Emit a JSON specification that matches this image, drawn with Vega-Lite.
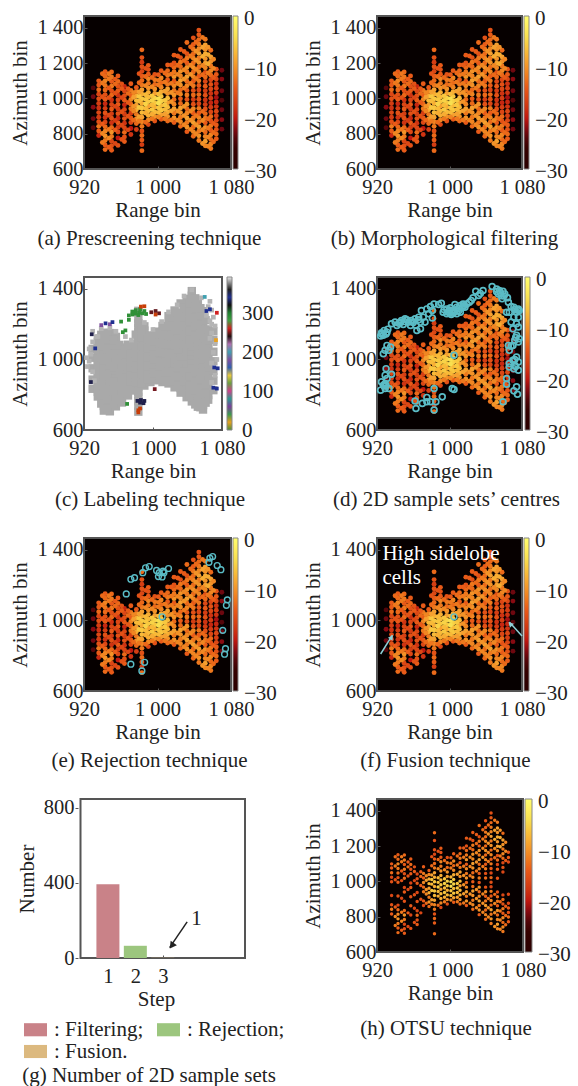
{"$schema":"https://vega.github.io/schema/vega-lite/v6.json","padding":{"left":8,"top":15,"right":0,"bottom":0},"background":"white","columns":2,"bounds":"flush","spacing":{"row":108,"column":127},"resolve":{"scale":{"color":"independent"},"legend":{"color":"independent"}},
"config":{"view":{"stroke":"#555","strokeWidth":2},"axis":{"labelFont":"Liberation Serif","labelFontSize":20.5,"titleFont":"Liberation Serif","titleFontSize":21,"titleFontWeight":"normal","labelColor":"#222","titleColor":"#222","grid":false,"domain":false,"tickSize":-3,"tickColor":"#555","labelOverlap":false,"labelFlush":false},"axisX":{"labelPadding":11,"titlePadding":2},"axisY":{"labelPadding":4,"titlePadding":6},"legend":{"padding":0,"labelFont":"Liberation Serif","labelFontSize":21,"labelColor":"#222","labelOverlap":false,"gradientStrokeColor":"#888","gradientStrokeWidth":1}},
"datasets":{
"cells":[
{"r":930,"a":834,"v":-24},{"r":930,"a":886,"v":-23},{"r":930,"a":950,"v":-22},{"r":930,"a":1010,"v":-23},{"r":930,"a":1060,"v":-24},
{"r":936,"a":790,"v":-19},{"r":936,"a":816,"v":-14},{"r":936,"a":842,"v":-12},{"r":936,"a":868,"v":-15},{"r":936,"a":894,"v":-17},{"r":936,"a":920,"v":-16},{"r":936,"a":946,"v":-18},{"r":936,"a":972,"v":-17},{"r":936,"a":998,"v":-15},{"r":936,"a":1024,"v":-16},{"r":936,"a":1050,"v":-13},{"r":936,"a":1076,"v":-14},{"r":936,"a":1100,"v":-14},
{"r":943,"a":710,"v":-13},{"r":943,"a":736,"v":-14},{"r":943,"a":762,"v":-12},{"r":943,"a":788,"v":-10},{"r":943,"a":814,"v":-11},{"r":943,"a":840,"v":-13},{"r":943,"a":866,"v":-16},{"r":943,"a":892,"v":-18},{"r":943,"a":918,"v":-15},{"r":943,"a":944,"v":-17},{"r":943,"a":970,"v":-19},{"r":943,"a":996,"v":-14},{"r":943,"a":1022,"v":-15},{"r":943,"a":1048,"v":-13},{"r":943,"a":1074,"v":-12},{"r":943,"a":1100,"v":-11},{"r":943,"a":1126,"v":-13},{"r":943,"a":1152,"v":-14},
{"r":950,"a":706,"v":-14},{"r":950,"a":732,"v":-15},{"r":950,"a":758,"v":-16},{"r":950,"a":784,"v":-12},{"r":950,"a":810,"v":-10},{"r":950,"a":836,"v":-13},{"r":950,"a":862,"v":-18},{"r":950,"a":888,"v":-15},{"r":950,"a":914,"v":-17},{"r":950,"a":940,"v":-14},{"r":950,"a":966,"v":-16},{"r":950,"a":992,"v":-18},{"r":950,"a":1018,"v":-13},{"r":950,"a":1044,"v":-15},{"r":950,"a":1070,"v":-12},{"r":950,"a":1096,"v":-14},{"r":950,"a":1122,"v":-12},{"r":950,"a":1150,"v":-13},
{"r":957,"a":734,"v":-15},{"r":957,"a":776,"v":-20},{"r":957,"a":810,"v":-16},{"r":957,"a":836,"v":-17},{"r":957,"a":862,"v":-14},{"r":957,"a":888,"v":-19},{"r":957,"a":914,"v":-15},{"r":957,"a":940,"v":-17},{"r":957,"a":966,"v":-14},{"r":957,"a":992,"v":-16},{"r":957,"a":1018,"v":-18},{"r":957,"a":1044,"v":-14},{"r":957,"a":1070,"v":-15},{"r":957,"a":1096,"v":-13},{"r":957,"a":1128,"v":-14},
{"r":964,"a":756,"v":-14},{"r":964,"a":782,"v":-15},{"r":964,"a":808,"v":-13},{"r":964,"a":834,"v":-16},{"r":964,"a":860,"v":-18},{"r":964,"a":886,"v":-15},{"r":964,"a":912,"v":-17},{"r":964,"a":938,"v":-16},{"r":964,"a":964,"v":-19},{"r":964,"a":990,"v":-14},{"r":964,"a":1016,"v":-15},{"r":964,"a":1042,"v":-16},{"r":964,"a":1068,"v":-19},
{"r":971,"a":796,"v":-18},{"r":971,"a":830,"v":-20},{"r":971,"a":864,"v":-16},{"r":971,"a":890,"v":-14},{"r":971,"a":916,"v":-17},{"r":971,"a":942,"v":-12},{"r":971,"a":968,"v":-13},{"r":971,"a":994,"v":-11},{"r":971,"a":1020,"v":-14},{"r":971,"a":1046,"v":-12},{"r":971,"a":1084,"v":-14},
{"r":977,"a":824,"v":-17},{"r":977,"a":858,"v":-13},{"r":977,"a":884,"v":-10},{"r":977,"a":910,"v":-12},{"r":977,"a":936,"v":-8},{"r":977,"a":962,"v":-9},{"r":977,"a":988,"v":-7},{"r":977,"a":1014,"v":-8},{"r":977,"a":1040,"v":-11},{"r":977,"a":1062,"v":-14},
{"r":983,"a":704,"v":-13},{"r":983,"a":738,"v":-17},{"r":983,"a":764,"v":-14},{"r":983,"a":790,"v":-13},{"r":983,"a":816,"v":-15},{"r":983,"a":842,"v":-12},{"r":983,"a":868,"v":-11},{"r":983,"a":894,"v":-9},{"r":983,"a":920,"v":-7},{"r":983,"a":946,"v":-6},{"r":983,"a":972,"v":-8},{"r":983,"a":998,"v":-6},{"r":983,"a":1024,"v":-8},{"r":983,"a":1050,"v":-9},{"r":983,"a":1076,"v":-12},{"r":983,"a":1102,"v":-13},{"r":983,"a":1128,"v":-14},{"r":983,"a":1154,"v":-16},{"r":983,"a":1180,"v":-15},{"r":983,"a":1206,"v":-17},{"r":983,"a":1232,"v":-15},{"r":983,"a":1276,"v":-13},
{"r":990,"a":852,"v":-16},{"r":990,"a":878,"v":-11},{"r":990,"a":904,"v":-8},{"r":990,"a":930,"v":-7},{"r":990,"a":956,"v":-9},{"r":990,"a":982,"v":-6},{"r":990,"a":1008,"v":-7},{"r":990,"a":1034,"v":-8},{"r":990,"a":1060,"v":-10},{"r":990,"a":1086,"v":-12},{"r":990,"a":1112,"v":-11},{"r":990,"a":1138,"v":-14},{"r":990,"a":1164,"v":-15},{"r":990,"a":1188,"v":-14},
{"r":997,"a":872,"v":-15},{"r":997,"a":898,"v":-10},{"r":997,"a":924,"v":-7},{"r":997,"a":950,"v":-8},{"r":997,"a":976,"v":-6},{"r":997,"a":1002,"v":-5},{"r":997,"a":1028,"v":-9},{"r":997,"a":1054,"v":-10},{"r":997,"a":1080,"v":-13},{"r":997,"a":1106,"v":-12},{"r":997,"a":1136,"v":-15},
{"r":1004,"a":882,"v":-14},{"r":1004,"a":908,"v":-9},{"r":1004,"a":934,"v":-6},{"r":1004,"a":960,"v":-7},{"r":1004,"a":986,"v":-5},{"r":1004,"a":1012,"v":-6},{"r":1004,"a":1038,"v":-8},{"r":1004,"a":1064,"v":-11},{"r":1004,"a":1090,"v":-13},{"r":1004,"a":1116,"v":-11},{"r":1004,"a":1158,"v":-14},
{"r":1011,"a":872,"v":-13},{"r":1011,"a":898,"v":-10},{"r":1011,"a":924,"v":-8},{"r":1011,"a":950,"v":-7},{"r":1011,"a":976,"v":-9},{"r":1011,"a":1002,"v":-7},{"r":1011,"a":1028,"v":-10},{"r":1011,"a":1054,"v":-9},{"r":1011,"a":1080,"v":-12},{"r":1011,"a":1106,"v":-14},{"r":1011,"a":1132,"v":-12},{"r":1011,"a":1158,"v":-13},{"r":1011,"a":1190,"v":-14},
{"r":1018,"a":864,"v":-14},{"r":1018,"a":890,"v":-10},{"r":1018,"a":916,"v":-12},{"r":1018,"a":942,"v":-9},{"r":1018,"a":968,"v":-11},{"r":1018,"a":994,"v":-13},{"r":1018,"a":1020,"v":-10},{"r":1018,"a":1046,"v":-12},{"r":1018,"a":1072,"v":-11},{"r":1018,"a":1098,"v":-14},{"r":1018,"a":1124,"v":-10},{"r":1018,"a":1150,"v":-12},{"r":1018,"a":1176,"v":-13},{"r":1018,"a":1202,"v":-15},{"r":1018,"a":1246,"v":-14},
{"r":1025,"a":842,"v":-13},{"r":1025,"a":868,"v":-11},{"r":1025,"a":894,"v":-12},{"r":1025,"a":920,"v":-10},{"r":1025,"a":946,"v":-9},{"r":1025,"a":972,"v":-13},{"r":1025,"a":998,"v":-14},{"r":1025,"a":1024,"v":-11},{"r":1025,"a":1050,"v":-13},{"r":1025,"a":1076,"v":-10},{"r":1025,"a":1102,"v":-9},{"r":1025,"a":1128,"v":-11},{"r":1025,"a":1154,"v":-10},{"r":1025,"a":1180,"v":-13},{"r":1025,"a":1206,"v":-12},{"r":1025,"a":1232,"v":-15},{"r":1025,"a":1278,"v":-14},
{"r":1032,"a":812,"v":-14},{"r":1032,"a":838,"v":-10},{"r":1032,"a":864,"v":-12},{"r":1032,"a":890,"v":-9},{"r":1032,"a":916,"v":-11},{"r":1032,"a":942,"v":-13},{"r":1032,"a":968,"v":-10},{"r":1032,"a":994,"v":-15},{"r":1032,"a":1020,"v":-12},{"r":1032,"a":1046,"v":-14},{"r":1032,"a":1072,"v":-11},{"r":1032,"a":1098,"v":-13},{"r":1032,"a":1124,"v":-9},{"r":1032,"a":1150,"v":-12},{"r":1032,"a":1176,"v":-10},{"r":1032,"a":1202,"v":-14},{"r":1032,"a":1228,"v":-12},{"r":1032,"a":1254,"v":-15},{"r":1032,"a":1318,"v":-13},
{"r":1039,"a":786,"v":-13},{"r":1039,"a":812,"v":-11},{"r":1039,"a":838,"v":-13},{"r":1039,"a":864,"v":-9},{"r":1039,"a":890,"v":-12},{"r":1039,"a":916,"v":-14},{"r":1039,"a":942,"v":-11},{"r":1039,"a":968,"v":-15},{"r":1039,"a":994,"v":-17},{"r":1039,"a":1020,"v":-13},{"r":1039,"a":1046,"v":-15},{"r":1039,"a":1072,"v":-12},{"r":1039,"a":1098,"v":-14},{"r":1039,"a":1124,"v":-11},{"r":1039,"a":1150,"v":-13},{"r":1039,"a":1176,"v":-10},{"r":1039,"a":1202,"v":-13},{"r":1039,"a":1228,"v":-11},{"r":1039,"a":1254,"v":-13},{"r":1039,"a":1280,"v":-12},{"r":1039,"a":1306,"v":-14},{"r":1039,"a":1344,"v":-15},
{"r":1045,"a":762,"v":-12},{"r":1045,"a":788,"v":-10},{"r":1045,"a":814,"v":-12},{"r":1045,"a":840,"v":-9},{"r":1045,"a":866,"v":-13},{"r":1045,"a":892,"v":-11},{"r":1045,"a":918,"v":-14},{"r":1045,"a":944,"v":-12},{"r":1045,"a":970,"v":-16},{"r":1045,"a":996,"v":-15},{"r":1045,"a":1022,"v":-13},{"r":1045,"a":1048,"v":-16},{"r":1045,"a":1074,"v":-14},{"r":1045,"a":1100,"v":-12},{"r":1045,"a":1126,"v":-14},{"r":1045,"a":1152,"v":-11},{"r":1045,"a":1178,"v":-13},{"r":1045,"a":1204,"v":-10},{"r":1045,"a":1230,"v":-12},{"r":1045,"a":1256,"v":-9},{"r":1045,"a":1282,"v":-11},{"r":1045,"a":1308,"v":-12},{"r":1045,"a":1334,"v":-13},{"r":1045,"a":1362,"v":-14},{"r":1045,"a":1388,"v":-15},
{"r":1052,"a":732,"v":-11},{"r":1052,"a":758,"v":-9},{"r":1052,"a":784,"v":-11},{"r":1052,"a":810,"v":-13},{"r":1052,"a":836,"v":-10},{"r":1052,"a":862,"v":-14},{"r":1052,"a":888,"v":-12},{"r":1052,"a":914,"v":-13},{"r":1052,"a":940,"v":-15},{"r":1052,"a":966,"v":-17},{"r":1052,"a":992,"v":-18},{"r":1052,"a":1018,"v":-15},{"r":1052,"a":1044,"v":-17},{"r":1052,"a":1070,"v":-14},{"r":1052,"a":1096,"v":-16},{"r":1052,"a":1122,"v":-13},{"r":1052,"a":1148,"v":-15},{"r":1052,"a":1174,"v":-11},{"r":1052,"a":1200,"v":-9},{"r":1052,"a":1226,"v":-10},{"r":1052,"a":1252,"v":-8},{"r":1052,"a":1278,"v":-10},{"r":1052,"a":1304,"v":-9},{"r":1052,"a":1336,"v":-12},
{"r":1058,"a":716,"v":-12},{"r":1058,"a":742,"v":-11},{"r":1058,"a":768,"v":-13},{"r":1058,"a":794,"v":-11},{"r":1058,"a":820,"v":-14},{"r":1058,"a":846,"v":-12},{"r":1058,"a":872,"v":-15},{"r":1058,"a":898,"v":-13},{"r":1058,"a":924,"v":-16},{"r":1058,"a":950,"v":-17},{"r":1058,"a":976,"v":-19},{"r":1058,"a":1002,"v":-17},{"r":1058,"a":1028,"v":-18},{"r":1058,"a":1054,"v":-16},{"r":1058,"a":1080,"v":-15},{"r":1058,"a":1106,"v":-16},{"r":1058,"a":1132,"v":-13},{"r":1058,"a":1158,"v":-11},{"r":1058,"a":1184,"v":-12},{"r":1058,"a":1210,"v":-10},{"r":1058,"a":1236,"v":-9},{"r":1058,"a":1274,"v":-13},
{"r":1064,"a":772,"v":-14},{"r":1064,"a":798,"v":-13},{"r":1064,"a":824,"v":-15},{"r":1064,"a":850,"v":-14},{"r":1064,"a":876,"v":-16},{"r":1064,"a":902,"v":-17},{"r":1064,"a":928,"v":-16},{"r":1064,"a":954,"v":-18},{"r":1064,"a":980,"v":-19},{"r":1064,"a":1006,"v":-21},{"r":1064,"a":1032,"v":-18},{"r":1064,"a":1058,"v":-17},{"r":1064,"a":1084,"v":-18},{"r":1064,"a":1110,"v":-16},{"r":1064,"a":1136,"v":-14},{"r":1064,"a":1166,"v":-15},
{"r":1070,"a":826,"v":-23},{"r":1070,"a":880,"v":-22},{"r":1070,"a":936,"v":-23},{"r":1070,"a":990,"v":-24},{"r":1070,"a":1044,"v":-23},{"r":1070,"a":1110,"v":-22},{"r":1070,"a":1160,"v":-23},
{"r":940,"a":750,"v":-12},{"r":940,"a":801,"v":-11},{"r":940,"a":855,"v":-14},{"r":940,"a":1010,"v":-15},{"r":940,"a":1088,"v":-12},{"r":940,"a":1140,"v":-13},
{"r":947,"a":723,"v":-14},{"r":947,"a":775,"v":-11},{"r":947,"a":825,"v":-12},{"r":947,"a":905,"v":-16},{"r":947,"a":1005,"v":-15},{"r":947,"a":1060,"v":-14},{"r":947,"a":1112,"v":-12},{"r":947,"a":1140,"v":-12},
{"r":954,"a":745,"v":-16},{"r":954,"a":822,"v":-14},{"r":954,"a":875,"v":-17},{"r":954,"a":955,"v":-16},{"r":954,"a":1031,"v":-15},{"r":954,"a":1083,"v":-13},{"r":954,"a":1110,"v":-14},
{"r":961,"a":768,"v":-15},{"r":961,"a":848,"v":-16},{"r":961,"a":925,"v":-15},{"r":961,"a":1005,"v":-16},{"r":961,"a":1057,"v":-14},{"r":961,"a":1083,"v":-15},
{"r":968,"a":822,"v":-16},{"r":968,"a":899,"v":-15},{"r":968,"a":977,"v":-14},{"r":968,"a":1029,"v":-13},{"r":968,"a":1055,"v":-14},
{"r":974,"a":877,"v":-13},{"r":974,"a":929,"v":-11},{"r":974,"a":955,"v":-10},{"r":974,"a":1007,"v":-9},{"r":974,"a":1033,"v":-11},
{"r":980,"a":871,"v":-12},{"r":980,"a":897,"v":-9},{"r":980,"a":949,"v":-6},{"r":980,"a":985,"v":-7},{"r":980,"a":1011,"v":-6},{"r":980,"a":1037,"v":-9},{"r":980,"a":1089,"v":-13},{"r":980,"a":1141,"v":-15},
{"r":987,"a":865,"v":-13},{"r":987,"a":917,"v":-8},{"r":987,"a":943,"v":-7},{"r":987,"a":969,"v":-5},{"r":987,"a":995,"v":-6},{"r":987,"a":1021,"v":-7},{"r":987,"a":1073,"v":-11},{"r":987,"a":1125,"v":-13},{"r":987,"a":1171,"v":-15},
{"r":994,"a":885,"v":-12},{"r":994,"a":911,"v":-8},{"r":994,"a":937,"v":-6},{"r":994,"a":963,"v":-7},{"r":994,"a":989,"v":-5},{"r":994,"a":1015,"v":-6},{"r":994,"a":1067,"v":-11},{"r":994,"a":1119,"v":-13},
{"r":1001,"a":895,"v":-11},{"r":1001,"a":921,"v":-7},{"r":1001,"a":947,"v":-6},{"r":1001,"a":973,"v":-4},{"r":1001,"a":999,"v":-4},{"r":1001,"a":1025,"v":-7},{"r":1001,"a":1077,"v":-12},{"r":1001,"a":1103,"v":-12},{"r":1001,"a":1135,"v":-14},
{"r":1008,"a":885,"v":-12},{"r":1008,"a":911,"v":-9},{"r":1008,"a":937,"v":-7},{"r":1008,"a":963,"v":-6},{"r":1008,"a":989,"v":-6},{"r":1008,"a":1041,"v":-9},{"r":1008,"a":1093,"v":-12},{"r":1008,"a":1145,"v":-13},
{"r":1015,"a":878,"v":-12},{"r":1015,"a":930,"v":-9},{"r":1015,"a":982,"v":-10},{"r":1015,"a":1034,"v":-10},{"r":1015,"a":1086,"v":-12},{"r":1015,"a":1138,"v":-12},{"r":1015,"a":1190,"v":-14},
{"r":1022,"a":877,"v":-11},{"r":1022,"a":929,"v":-10},{"r":1022,"a":1033,"v":-12},{"r":1022,"a":1085,"v":-11},{"r":1022,"a":1137,"v":-11},{"r":1022,"a":1189,"v":-13},{"r":1022,"a":1241,"v":-14},
{"r":1029,"a":851,"v":-11},{"r":1029,"a":903,"v":-10},{"r":1029,"a":955,"v":-10},{"r":1029,"a":1059,"v":-12},{"r":1029,"a":1111,"v":-10},{"r":1029,"a":1163,"v":-11},{"r":1029,"a":1215,"v":-13},{"r":1029,"a":1267,"v":-14},
{"r":1036,"a":825,"v":-11},{"r":1036,"a":877,"v":-10},{"r":1036,"a":929,"v":-11},{"r":1036,"a":1085,"v":-12},{"r":1036,"a":1137,"v":-10},{"r":1036,"a":1189,"v":-11},{"r":1036,"a":1241,"v":-12},{"r":1036,"a":1293,"v":-13},
{"r":1042,"a":799,"v":-11},{"r":1042,"a":851,"v":-10},{"r":1042,"a":903,"v":-12},{"r":1042,"a":1113,"v":-12},{"r":1042,"a":1165,"v":-11},{"r":1042,"a":1217,"v":-10},{"r":1042,"a":1269,"v":-10},{"r":1042,"a":1321,"v":-13},
{"r":1049,"a":745,"v":-10},{"r":1049,"a":823,"v":-11},{"r":1049,"a":875,"v":-11},{"r":1049,"a":927,"v":-13},{"r":1049,"a":1135,"v":-13},{"r":1049,"a":1187,"v":-11},{"r":1049,"a":1239,"v":-8},{"r":1049,"a":1291,"v":-9},{"r":1049,"a":1347,"v":-12},
{"r":1055,"a":729,"v":-11},{"r":1055,"a":781,"v":-11},{"r":1055,"a":833,"v":-12},{"r":1055,"a":885,"v":-13},{"r":1055,"a":1145,"v":-12},{"r":1055,"a":1197,"v":-8},{"r":1055,"a":1249,"v":-8},{"r":1055,"a":1291,"v":-10},
{"r":1061,"a":755,"v":-13},{"r":1061,"a":807,"v":-13},{"r":1061,"a":859,"v":-14},{"r":1061,"a":1119,"v":-14},{"r":1061,"a":1171,"v":-11},{"r":1061,"a":1223,"v":-11}
],
"centres":[
{"r":924,"a":1133},{"r":925,"a":1152},{"r":928,"a":1165},{"r":932,"a":1172},{"r":927,"a":1137},{"r":931,"a":1155},{"r":936,"a":1203},{"r":940,"a":1212},{"r":944,"a":1206},{"r":947,"a":1221},{"r":951,"a":1231},{"r":942,"a":1193},{"r":949,"a":1199},{"r":955,"a":1212},{"r":958,"a":1221},{"r":962,"a":1231},{"r":966,"a":1240},{"r":957,"a":1193},{"r":963,"a":1193},{"r":968,"a":1212},{"r":964,"a":1165},{"r":971,"a":1240},{"r":969,"a":1278},{"r":975,"a":1287},{"r":979,"a":1300},{"r":983,"a":1315},{"r":988,"a":1312},{"r":991,"a":1319},{"r":981,"a":1278},{"r":981,"a":1236},{"r":973,"a":1212},{"r":968,"a":1174},{"r":977,"a":1259},
{"r":993,"a":1268},{"r":997,"a":1287},{"r":1001,"a":1293},{"r":1004,"a":1278},{"r":1008,"a":1297},{"r":1012,"a":1306},{"r":1015,"a":1315},{"r":1019,"a":1315},{"r":1022,"a":1325},{"r":1026,"a":1350},{"r":1029,"a":1387},{"r":1037,"a":1391},{"r":1032,"a":1363},{"r":997,"a":1259},{"r":1002,"a":1255},{"r":1008,"a":1259},{"r":1012,"a":1268},{"r":1006,"a":1312},{"r":1014,"a":1293},{"r":1017,"a":1297},{"r":999,"a":1272},{"r":1005,"a":1268},{"r":994,"a":1282},
{"r":1047,"a":1414},{"r":1052,"a":1400},{"r":1055,"a":1391},{"r":1059,"a":1387},{"r":1054,"a":1372},{"r":1057,"a":1362},{"r":1061,"a":1372},{"r":1058,"a":1344},{"r":1065,"a":1325},{"r":1068,"a":1300},{"r":1063,"a":1268},{"r":1066,"a":1268},{"r":1071,"a":1297},{"r":1076,"a":1287},{"r":1074,"a":1268},{"r":1077,"a":1278},{"r":1071,"a":1240},{"r":1076,"a":1240},{"r":1068,"a":1212},{"r":1074,"a":1203},{"r":1070,"a":1174},{"r":1076,"a":1184},{"r":1074,"a":1137},{"r":1077,"a":1118},{"r":1072,"a":1109},{"r":1076,"a":1099},{"r":1065,"a":1080},{"r":1070,"a":1080},{"r":1066,"a":1052},{"r":1074,"a":1014},{"r":1070,"a":995},{"r":1066,"a":977},{"r":1072,"a":967},{"r":1076,"a":986},{"r":1066,"a":958},{"r":1076,"a":939},{"r":1071,"a":948},
{"r":1063,"a":892},{"r":1063,"a":860},{"r":1074,"a":845},{"r":1071,"a":822},{"r":1075,"a":803},{"r":1059,"a":760},
{"r":931,"a":1080},{"r":935,"a":1071},{"r":929,"a":1052},{"r":927,"a":1033},{"r":933,"a":1052},{"r":930,"a":948},{"r":936,"a":916},{"r":929,"a":911},{"r":931,"a":892},{"r":925,"a":873},{"r":929,"a":864},{"r":924,"a":826},{"r":927,"a":854},{"r":933,"a":835},{"r":929,"a":835},
{"r":963,"a":722},{"r":962,"a":764},{"r":970,"a":751},{"r":975,"a":785},{"r":975,"a":760},{"r":979,"a":760},{"r":985,"a":760},{"r":992,"a":788},{"r":983,"a":835},{"r":983,"a":713},{"r":1003,"a":835},{"r":1005,"a":830},{"r":1005,"a":1024},
{"r":1000,"a":1262},{"r":1004,"a":1262},{"r":1010,"a":1275},{"r":1010,"a":1290},{"r":1000,"a":1280},{"r":1016,"a":1305},{"r":1024,"a":1335},{"r":1034,"a":1375},{"r":1056,"a":1380},{"r":1052,"a":1385},{"r":1060,"a":1360},{"r":946,"a":1210},{"r":953,"a":1225},{"r":960,"a":1210},{"r":950,"a":1215},{"r":966,"a":1225},{"r":925,"a":1145},{"r":930,"a":1145},{"r":1073,"a":1125},{"r":1075,"a":1280},{"r":1072,"a":1285},{"r":1068,"a":1075},{"r":1072,"a":1000},{"r":1073,"a":960},{"r":928,"a":850},{"r":930,"a":852},{"r":1064,"a":1350}
],
"kept":[
{"r":966,"a":1151},{"r":971,"a":1234},{"r":975,"a":1243},{"r":984,"a":1271},{"r":987,"a":1299},{"r":991,"a":1306},{"r":999,"a":1284},{"r":1002,"a":1271},{"r":1006,"a":1280},{"r":1001,"a":1249},{"r":1005,"a":1247},{"r":1007,"a":1271},{"r":1012,"a":1295},{"r":1056,"a":1330},{"r":1057,"a":1354},{"r":1060,"a":1363},{"r":1065,"a":1312},{"r":1069,"a":1288},{"r":1076,"a":1117},{"r":1075,"a":1086},{"r":1071,"a":944},{"r":1074,"a":840},{"r":1073,"a":809},{"r":971,"a":752},{"r":986,"a":763},{"r":983,"a":714},{"r":1005,"a":1021}
],
"labels":[
{"r":972,"a":1250,"l":290},{"r":976,"a":1255,"l":290},{"r":980,"a":1260,"l":290},{"r":984,"a":1265,"l":290},{"r":988,"a":1262,"l":290},{"r":992,"a":1258,"l":290},{"r":980,"a":1280,"l":290},{"r":985,"a":1285,"l":290},{"r":976,"a":1272,"l":290},{"r":990,"a":1275,"l":290},{"r":983,"a":1252,"l":290},
{"r":986,"a":1300,"l":262},{"r":990,"a":1302,"l":262},{"r":998,"a":1268,"l":248},{"r":1003,"a":1275,"l":248},{"r":1007,"a":1262,"l":248},{"r":1003,"a":1255,"l":262},
{"r":983,"a":712,"l":262},{"r":983,"a":700,"l":262},{"r":985,"a":722,"l":262},
{"r":982,"a":765,"l":330},{"r":986,"a":770,"l":330},{"r":990,"a":765,"l":330},{"r":985,"a":755,"l":330},{"r":989,"a":752,"l":330},{"r":970,"a":748,"l":290},{"r":1002,"a":832,"l":250},
{"r":940,"a":1195,"l":180},{"r":945,"a":1205,"l":340},{"r":950,"a":1200,"l":180},{"r":953,"a":1212,"l":340},{"r":965,"a":1155,"l":290},{"r":968,"a":1165,"l":290},{"r":963,"a":1215,"l":290},{"r":972,"a":1225,"l":290},
{"r":929,"a":1143,"l":330},{"r":933,"a":1063,"l":340},{"r":928,"a":872,"l":330},{"r":1070,"a":840,"l":340},{"r":1074,"a":835,"l":340},{"r":1071,"a":955,"l":340},{"r":1075,"a":950,"l":340},{"r":1066,"a":1285,"l":340},{"r":1062,"a":1275,"l":340},{"r":1074,"a":1265,"l":260},{"r":1073,"a":1110,"l":20},{"r":1060,"a":1355,"l":200}
],
"speckle":[
{"r":923,"a":1010},{"r":926,"a":990},{"r":924,"a":960},{"r":928,"a":1030},{"r":930,"a":930},{"r":926,"a":1060},{"r":930,"a":1100},{"r":932,"a":880},{"r":934,"a":1130},{"r":1066,"a":1330},{"r":1068,"a":1280},{"r":1070,"a":1240},{"r":1072,"a":1190},{"r":1068,"a":1150},{"r":1072,"a":1090},{"r":1070,"a":1040},{"r":1074,"a":1000},{"r":1068,"a":980},{"r":1072,"a":910},{"r":1068,"a":870},{"r":1064,"a":1300},{"r":1066,"a":1220},{"r":1066,"a":1120},
{"r":930,"a":1160},{"r":936,"a":1130},{"r":940,"a":1175},{"r":950,"a":1180},{"r":957,"a":1160},{"r":968,"a":1130},{"r":975,"a":1110},{"r":990,"a":1210},{"r":1000,"a":1170},{"r":1010,"a":1215},{"r":1018,"a":1270},{"r":1028,"a":1310},{"r":1036,"a":1360},{"r":1045,"a":1395},{"r":1056,"a":1350},{"r":1062,"a":1250},{"r":1068,"a":1200}
]},
"concat":[
{"title":{"text":"(a) Prescreening technique","orient":"bottom","font":"Liberation Serif","fontSize":21,"fontWeight":"normal","color":"#222","dx":-8,"offset":7},"width":147,"height":153,"view":{"fill":"#060000"},
"data":{"name":"cells"},"mark":{"type":"point","filled":true,"opacity":1,"size":24},
"encoding":{"x":{"field":"r","type":"quantitative","scale":{"domain":[920,1080],"nice":false,"zero":false},"axis":{"title":"Range bin","values":[920,1000,1080],"labelExpr":"datum.value<1000?datum.label:'1 '+format(datum.value-1000,'03d')"}},"y":{"field":"a","type":"quantitative","scale":{"domain":[600,1468],"nice":false,"zero":false},"axis":{"title":"Azimuth bin","values":[600,800,1000,1200,1400],"labelExpr":"datum.value<1000?datum.label:'1 '+format(datum.value-1000,'03d')"}},"color":{"field":"v","type":"quantitative","scale":{"domain":[-30,-25,-20,-14,-9,-4,0],"range":["#000000","#3a0400","#c01810","#e85a18","#f5a030","#f8e050","#ffffff"]},"legend":{"type":"gradient","title":null,"orient":"right","offset":2,"gradientLength":153,"gradientThickness":5,"labelOffset":6,"values":[-30,-20,-10,0],"labelExpr":"replace(datum.label,'-','−')","labelBaseline":"middle","encoding":{"labels":{"baseline":{"value":"middle"},"dy":{"value":3}}}}}}},
{"title":{"text":"(b) Morphological filtering","orient":"bottom","font":"Liberation Serif","fontSize":21,"fontWeight":"normal","color":"#222","dx":-5,"offset":7},"width":145,"height":153,"view":{"fill":"#060000"},
"data":{"name":"cells"},"mark":{"type":"point","filled":true,"opacity":1,"size":24},
"encoding":{"x":{"field":"r","type":"quantitative","scale":{"domain":[920,1080],"nice":false,"zero":false},"axis":{"title":"Range bin","values":[920,1000,1080],"labelExpr":"datum.value<1000?datum.label:'1 '+format(datum.value-1000,'03d')"}},"y":{"field":"a","type":"quantitative","scale":{"domain":[600,1468],"nice":false,"zero":false},"axis":{"title":"Azimuth bin","values":[600,800,1000,1200,1400],"labelExpr":"datum.value<1000?datum.label:'1 '+format(datum.value-1000,'03d')"}},"color":{"field":"v","type":"quantitative","scale":{"domain":[-30,-25,-20,-14,-9,-4,0],"range":["#000000","#3a0400","#c01810","#e85a18","#f5a030","#f8e050","#ffffff"]},"legend":{"type":"gradient","title":null,"orient":"right","offset":2,"gradientLength":153,"gradientThickness":5,"labelOffset":6,"values":[-30,-20,-10,0],"labelExpr":"replace(datum.label,'-','−')","labelBaseline":"middle","encoding":{"labels":{"baseline":{"value":"middle"},"dy":{"value":3}}}}}}},
{"title":{"text":"(c) Labeling technique","orient":"bottom","font":"Liberation Serif","fontSize":21,"fontWeight":"normal","color":"#222","dx":-3,"offset":7},"width":138,"height":153,"view":{"fill":"#ffffff"},
"layer":[
{"data":{"name":"cells"},"mark":{"type":"point","filled":true,"opacity":1,"size":70,"shape":"square","color":"#a9a9a9"},"encoding":{"x":{"field":"r","type":"quantitative","scale":{"domain":[920,1080],"nice":false,"zero":false},"axis":{"title":"Range bin","values":[920,1000,1080],"labelExpr":"datum.value<1000?datum.label:'1 '+format(datum.value-1000,'03d')"}},"y":{"field":"a","type":"quantitative","scale":{"domain":[600,1468],"nice":false,"zero":false},"axis":{"title":"Azimuth bin","values":[600,800,1000,1200,1400],"labelExpr":"datum.value<1000?datum.label:'1 '+format(datum.value-1000,'03d')"}}}},
{"data":{"name":"speckle"},"mark":{"type":"point","filled":true,"opacity":1,"size":22,"shape":"square","color":"#b4b4b4"},"encoding":{"x":{"field":"r","type":"quantitative"},"y":{"field":"a","type":"quantitative"}}},
{"data":{"name":"labels"},"mark":{"type":"point","filled":true,"opacity":1,"size":14,"shape":"square"},"encoding":{"x":{"field":"r","type":"quantitative"},"y":{"field":"a","type":"quantitative"},"color":{"field":"l","type":"quantitative","scale":{"domain":[0,20,40,60,80,100,120,140,160,180,200,220,240,260,280,300,320,340,360,380,392],"range":["#4c8f3a","#e8a020","#3a9a50","#7a3f9a","#2a9a90","#d0408a","#6aa040","#e8c840","#3060b0","#8050a0","#40a0b0","#b070b0","#201010","#d02020","#40a040","#208030","#101010","#203090","#202020","#a0a0a0","#e8e8e8"]},"legend":{"type":"gradient","title":null,"orient":"right","offset":5,"gradientLength":153,"gradientThickness":5,"labelOffset":10,"values":[0,100,200,300],"labelBaseline":"middle","encoding":{"labels":{"baseline":{"value":"middle"},"dy":{"value":1}}}}}}}
]},
{"title":{"text":"(d) 2D sample sets’ centres","orient":"bottom","font":"Liberation Serif","fontSize":21,"fontWeight":"normal","color":"#222","dx":-3,"offset":7},"width":145,"height":153,"view":{"fill":"#060000"},
"layer":[
{"data":{"name":"cells"},"mark":{"type":"point","filled":true,"opacity":1,"size":24},"encoding":{"x":{"field":"r","type":"quantitative","scale":{"domain":[920,1080],"nice":false,"zero":false},"axis":{"title":"Range bin","values":[920,1000,1080],"labelExpr":"datum.value<1000?datum.label:'1 '+format(datum.value-1000,'03d')"}},"y":{"field":"a","type":"quantitative","scale":{"domain":[600,1468],"nice":false,"zero":false},"axis":{"title":"Azimuth bin","values":[600,800,1000,1200,1400],"labelExpr":"datum.value<1000?datum.label:'1 '+format(datum.value-1000,'03d')"}},"color":{"field":"v","type":"quantitative","scale":{"domain":[-30,-25,-20,-14,-9,-4,0],"range":["#000000","#3a0400","#c01810","#e85a18","#f5a030","#f8e050","#ffffff"]},"legend":{"type":"gradient","title":null,"orient":"right","offset":3,"gradientLength":153,"gradientThickness":5,"labelOffset":6,"values":[-30,-20,-10,0],"labelExpr":"replace(datum.label,'-','−')","labelBaseline":"middle","encoding":{"labels":{"baseline":{"value":"middle"},"dy":{"value":3}}}}}}},
{"data":{"name":"centres"},"mark":{"type":"point","filled":false,"size":34,"color":"#5bbcc6","strokeWidth":1.7,"opacity":1},"encoding":{"x":{"field":"r","type":"quantitative"},"y":{"field":"a","type":"quantitative"}}}
]},
{"title":{"text":"(e) Rejection technique","orient":"bottom","font":"Liberation Serif","fontSize":21,"fontWeight":"normal","color":"#222","dx":-8,"offset":7},"width":147,"height":153,"view":{"fill":"#060000"},
"layer":[
{"data":{"name":"cells"},"mark":{"type":"point","filled":true,"opacity":1,"size":24},"encoding":{"x":{"field":"r","type":"quantitative","scale":{"domain":[920,1080],"nice":false,"zero":false},"axis":{"title":"Range bin","values":[920,1000,1080],"labelExpr":"datum.value<1000?datum.label:'1 '+format(datum.value-1000,'03d')"}},"y":{"field":"a","type":"quantitative","scale":{"domain":[600,1468],"nice":false,"zero":false},"axis":{"title":"Azimuth bin","values":[600,800,1000,1200,1400],"labelExpr":"datum.value<1000?datum.label:'1 '+format(datum.value-1000,'03d')"}},"color":{"field":"v","type":"quantitative","scale":{"domain":[-30,-25,-20,-14,-9,-4,0],"range":["#000000","#3a0400","#c01810","#e85a18","#f5a030","#f8e050","#ffffff"]},"legend":{"type":"gradient","title":null,"orient":"right","offset":2,"gradientLength":153,"gradientThickness":5,"labelOffset":6,"values":[-30,-20,-10,0],"labelExpr":"replace(datum.label,'-','−')","labelBaseline":"middle","encoding":{"labels":{"baseline":{"value":"middle"},"dy":{"value":3}}}}}}},
{"data":{"name":"kept"},"mark":{"type":"point","filled":false,"size":34,"color":"#5bbcc6","strokeWidth":1.4,"opacity":1},"encoding":{"x":{"field":"r","type":"quantitative"},"y":{"field":"a","type":"quantitative"}}}
]},
{"title":{"text":"(f) Fusion technique","orient":"bottom","font":"Liberation Serif","fontSize":21,"fontWeight":"normal","color":"#222","dx":-4,"offset":7},"width":145,"height":153,"view":{"fill":"#060000"},
"layer":[
{"data":{"name":"cells"},"mark":{"type":"point","filled":true,"opacity":1,"size":24},"encoding":{"x":{"field":"r","type":"quantitative","scale":{"domain":[920,1080],"nice":false,"zero":false},"axis":{"title":"Range bin","values":[920,1000,1080],"labelExpr":"datum.value<1000?datum.label:'1 '+format(datum.value-1000,'03d')"}},"y":{"field":"a","type":"quantitative","scale":{"domain":[600,1468],"nice":false,"zero":false},"axis":{"title":"Azimuth bin","values":[600,800,1000,1200,1400],"labelExpr":"datum.value<1000?datum.label:'1 '+format(datum.value-1000,'03d')"}},"color":{"field":"v","type":"quantitative","scale":{"domain":[-30,-25,-20,-14,-9,-4,0],"range":["#000000","#3a0400","#c01810","#e85a18","#f5a030","#f8e050","#ffffff"]},"legend":{"type":"gradient","title":null,"orient":"right","offset":2,"gradientLength":153,"gradientThickness":5,"labelOffset":6,"values":[-30,-20,-10,0],"labelExpr":"replace(datum.label,'-','−')","labelBaseline":"middle","encoding":{"labels":{"baseline":{"value":"middle"},"dy":{"value":3}}}}}}},
{"data":{"values":[{"r":1005,"a":1021}]},"mark":{"type":"point","filled":false,"size":34,"color":"#5bbcc6","strokeWidth":1.4,"opacity":1},"encoding":{"x":{"field":"r","type":"quantitative"},"y":{"field":"a","type":"quantitative"}}},
{"data":{"values":[{"r":924,"a":810,"r2":937,"a2":917},{"r":1080,"a":912,"r2":1066,"a2":991}]},"mark":{"type":"rule","color":"#8fd0d8","strokeWidth":1.5},"encoding":{"x":{"field":"r","type":"quantitative"},"y":{"field":"a","type":"quantitative"},"x2":{"field":"r2"},"y2":{"field":"a2"}}},
{"data":{"values":[{"r":936,"a":905}]},"mark":{"type":"point","filled":true,"shape":"triangle-up","size":32,"color":"#8fd0d8","opacity":1,"angle":32},"encoding":{"x":{"field":"r","type":"quantitative"},"y":{"field":"a","type":"quantitative"}}},
{"data":{"values":[{"r":1067,"a":980}]},"mark":{"type":"point","filled":true,"shape":"triangle-up","size":32,"color":"#8fd0d8","opacity":1,"angle":315},"encoding":{"x":{"field":"r","type":"quantitative"},"y":{"field":"a","type":"quantitative"}}},
{"data":{"values":[{"r":926,"a":1342,"t":"High sidelobe"},{"r":926,"a":1205,"t":"cells"}]},"mark":{"type":"text","align":"left","baseline":"alphabetic","font":"Liberation Serif","fontSize":21,"color":"#ffffff"},"encoding":{"x":{"field":"r","type":"quantitative"},"y":{"field":"a","type":"quantitative"},"text":{"field":"t"}}}
]},
{"title":{"text":"(g) Number of 2D sample sets","orient":"bottom","font":"Liberation Serif","fontSize":21,"fontWeight":"normal","color":"#222","dx":-18,"offset":3},"width":166,"height":159,"view":{"stroke":null,"fill":null},
"layer":[
{"data":{"values":[{"n":0}]},"mark":{"type":"rect","fill":null,"stroke":"#555","strokeWidth":2},"encoding":{"x":{"datum":0,"type":"quantitative","scale":{"domain":[0.31,6],"nice":false,"zero":false},"axis":{"title":"Step","values":[1,2,3],"titleX":72,"format":"d"}},"x2":{"datum":6},"y":{"datum":0,"type":"quantitative","scale":{"domain":[0,846],"nice":false},"axis":{"title":"Number","values":[0,200,400,600,800],"offset":9}},"y2":{"datum":846}}},
{"data":{"values":[{"step":1,"n":393,"k":"Filtering"},{"step":2,"n":65,"k":"Rejection"},{"step":3,"n":1,"k":"Fusion"}]},"mark":{"type":"bar","size":23,"orient":"vertical"},"encoding":{"x":{"field":"step","type":"quantitative"},"y":{"field":"n","type":"quantitative","stack":null},"color":{"field":"k","type":"nominal","scale":{"domain":["Filtering","Rejection","Fusion"],"range":["#c98288","#9cc67e","#dcb97f"]},"legend":{"title":null,"orient":"none","direction":"horizontal","legendX":-60,"legendY":219,"columns":2,"symbolType":"M-1,-0.57H1V0.57H-1Z","symbolSize":529,"symbolStrokeWidth":0,"symbolOpacity":1,"labelFontSize":21,"labelOffset":7,"columnPadding":13,"rowPadding":-2,"labelExpr":"': '+datum.label+(datum.label=='Fusion'?'.':';')"}}}},
{"data":{"values":[{"x":3.89,"y":192,"x2":3.25,"y2":55}]},"mark":{"type":"rule","color":"#222","strokeWidth":1.5},"encoding":{"x":{"field":"x","type":"quantitative"},"y":{"field":"y","type":"quantitative"},"x2":{"field":"x2"},"y2":{"field":"y2"}}},
{"data":{"values":[{"x":3.33,"y":65}]},"mark":{"type":"point","filled":true,"shape":"triangle-up","size":60,"color":"#222","opacity":1,"angle":216},"encoding":{"x":{"field":"x","type":"quantitative"},"y":{"field":"y","type":"quantitative"}}},
{"data":{"values":[{"x":4.23,"y":205,"t":"1"}]},"mark":{"type":"text","font":"Liberation Serif","fontSize":21,"color":"#222"},"encoding":{"x":{"field":"x","type":"quantitative"},"y":{"field":"y","type":"quantitative"},"text":{"field":"t"}}}
]},
{"title":{"text":"(h) OTSU technique","orient":"bottom","font":"Liberation Serif","fontSize":21,"fontWeight":"normal","color":"#222","dx":-4,"offset":14},"width":146,"height":153,"view":{"fill":"#060000"},
"data":{"name":"cells"},"transform":[{"filter":"datum.v>-17"}],"mark":{"type":"point","filled":true,"opacity":1,"size":12},
"encoding":{"x":{"field":"r","type":"quantitative","scale":{"domain":[920,1080],"nice":false,"zero":false},"axis":{"title":"Range bin","values":[920,1000,1080],"labelExpr":"datum.value<1000?datum.label:'1 '+format(datum.value-1000,'03d')"}},"y":{"field":"a","type":"quantitative","scale":{"domain":[600,1468],"nice":false,"zero":false},"axis":{"title":"Azimuth bin","values":[600,800,1000,1200,1400],"labelExpr":"datum.value<1000?datum.label:'1 '+format(datum.value-1000,'03d')"}},"color":{"field":"v","type":"quantitative","scale":{"domain":[-30,-25,-20,-14,-9,-4,0],"range":["#000000","#3a0400","#c01810","#e85a18","#f5a030","#f8e050","#ffffff"]},"legend":{"type":"gradient","title":null,"orient":"right","offset":2,"gradientLength":153,"gradientThickness":7,"labelOffset":6,"values":[-30,-20,-10,0],"labelExpr":"replace(datum.label,'-','−')","labelBaseline":"middle","encoding":{"labels":{"baseline":{"value":"middle"},"dy":{"value":3}}}}}}}
]}
